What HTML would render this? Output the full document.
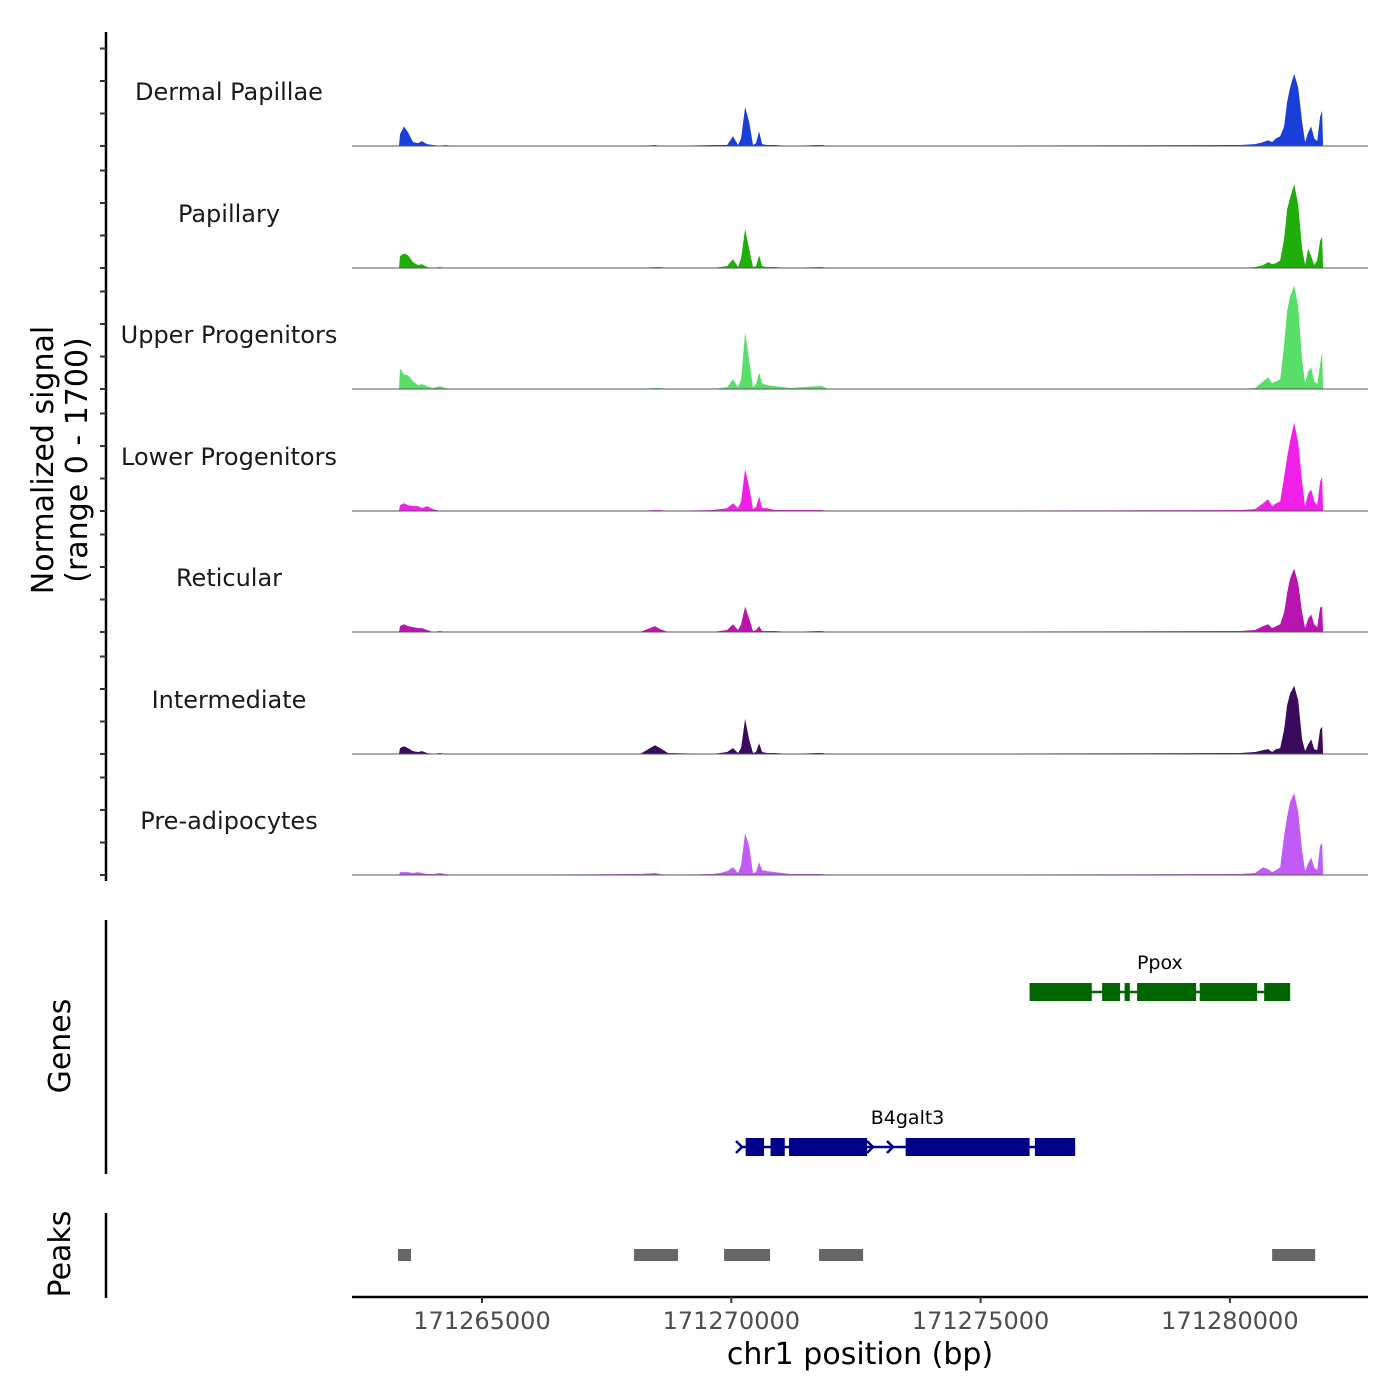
<!DOCTYPE html>
<html><head><meta charset="utf-8"><style>
html,body{margin:0;padding:0;background:#fff}
svg{display:block;font-family:"DejaVu Sans","Liberation Sans",sans-serif}
</style></head><body>
<svg id="chart" width="1400" height="1400" viewBox="0 0 1400 1400" xmlns="http://www.w3.org/2000/svg">
<g id="tracks"></g>
<g id="yaxis"></g>
<text transform="translate(53,460) rotate(-90)" text-anchor="middle" font-size="30" fill="#000">Normalized signal</text>
<text transform="translate(87,460) rotate(-90)" text-anchor="middle" font-size="30" fill="#000">(range 0 - 1700)</text>
<g id="genes"></g>
<line x1="106" y1="920" x2="106" y2="1174" stroke="#000" stroke-width="2.5"/>
<text transform="translate(70,1046) rotate(-90)" text-anchor="middle" font-size="30">Genes</text>
<g id="peaks"></g>
<line x1="106" y1="1213" x2="106" y2="1298" stroke="#000" stroke-width="2.5"/>
<text transform="translate(70,1254) rotate(-90)" text-anchor="middle" font-size="30">Peaks</text>
<g id="xaxis"></g>
<text x="860" y="1364" text-anchor="middle" font-size="30">chr1 position (bp)</text>
</svg>
<script>
const positions = [171263335,171263355,171263435,171263516,171263616,171263716,171263796,171263897,171264017,171264157,171264258,171264398,
171268169,171268470,171268571,171268731,
171269614,171269774,171269915,171270035,171270135,171270196,171270276,171270356,171270436,171270496,171270557,171270617,171270717,171270878,171271178,171271740,171271820,171271941,
171280205,171280506,171280667,171280767,171280847,171280928,171281008,171281088,171281148,171281208,171281289,171281369,171281449,171281509,171281570,171281630,171281690,171281750,171281810,171281850,171281870];
const trackNames = ["Dermal Papillae","Papillary","Upper Progenitors","Lower Progenitors","Reticular","Intermediate","Pre-adipocytes"];
const trackColors = ["#1a3fd9","#1fae0a","#5ade6a","#f020e8","#b815b0","#3a0a5e","#c25af5"];
const dermalPapillae = [0,180,300,210,60,45,75,30,15,0,15,0, 0,15,0,0, 15,15,15,150,15,120,600,375,15,45,225,30,15,15,0,15,15,0, 15,30,60,90,60,120,150,300,675,900,1110,900,375,60,210,300,120,75,450,540,0];
const papillary = [0,180,225,195,90,45,60,15,0,15,0,0, 0,15,15,0, 0,15,30,135,15,150,600,300,15,30,195,30,15,15,0,15,15,0, 0,15,45,90,60,75,120,450,900,1080,1290,975,300,45,300,180,45,120,420,480,0];
const upperProgenitors = [0,315,225,210,120,60,75,45,15,45,15,0, 0,15,15,0, 0,15,30,150,30,150,870,450,30,75,255,90,60,45,15,45,45,0, 0,15,120,180,90,120,150,675,1200,1425,1590,1275,450,90,270,330,120,75,375,570,0];
const lowerProgenitors = [0,90,120,90,75,75,45,75,30,0,0,0, 0,15,15,0, 15,30,45,120,45,150,645,375,30,60,225,45,45,15,15,15,15,0, 15,30,120,180,75,120,150,525,825,1080,1365,1050,450,75,270,330,150,90,450,525,0];
const reticular = [0,90,120,90,75,60,60,30,0,15,0,0, 0,90,45,0, 0,15,30,120,30,120,390,210,15,30,90,15,15,15,0,15,15,0, 15,30,90,120,60,90,120,300,600,825,975,750,300,60,210,270,120,75,375,390,0];
const intermediate = [0,90,120,90,45,30,45,15,0,15,0,0, 0,135,90,15, 0,15,30,90,15,90,540,225,15,30,165,30,15,15,0,15,15,0, 15,30,60,75,30,75,90,375,750,930,1050,825,225,45,150,225,75,60,375,420,0];
const preAdipocytes = [0,45,45,45,30,45,30,15,15,30,15,0, 15,30,15,0, 15,30,60,120,30,150,645,450,30,45,195,75,60,45,15,15,15,0, 15,30,120,90,45,75,120,600,900,1125,1260,975,375,60,180,270,120,75,450,495,0];
const trackValues = [dermalPapillae,papillary,upperProgenitors,lowerProgenitors,reticular,intermediate,preAdipocytes];

const xTicks = [171265000,171270000,171275000,171280000];
const xTickLabels = ["171265000","171270000","171275000","171280000"];

const peakStarts = [171263315,171268049,171269855,171271760,171280847];
const peakEnds   = [171263576,171268932,171270777,171272643,171281710];

const geneNames = ["Ppox","B4galt3"];
const geneStarts = [171275983,171270175];
const geneEnds = [171281208,171276896];
const ppoxExonStarts = [171275983,171277437,171277889,171278139,171279395,171280687];
const ppoxExonEnds   = [171277230,171277798,171277993,171279323,171280546,171281208];
const b4ExonStarts = [171270288,171270787,171271158,171273497,171276089];
const b4ExonEnds   = [171270657,171271072,171272723,171275983,171276896];

const NS="http://www.w3.org/2000/svg";
const X0=352, X1=1368, PXPB=0.04986;
function xs(bp){return 482+(bp-171265000)*PXPB;}
function ys(v,base){return base-v*0.065;}
const baselines=[146,268,389,511,632,754,875];
function mk(tag,attrs,parent){const e=document.createElementNS(NS,tag);for(const k in attrs)e.setAttribute(k,attrs[k]);parent.appendChild(e);return e;}

const tg=document.getElementById('tracks');
trackValues.forEach((vals,i)=>{
  const base=baselines[i];
  const g=mk('g',{},tg);
  
  
  let d='M'+xs(positions[0]).toFixed(1)+','+base;
  positions.forEach((p,j)=>{d+=' L'+xs(p).toFixed(1)+','+ys(vals[j],base).toFixed(1);});
  d+=' L'+xs(positions[positions.length-1]).toFixed(1)+','+base+' Z';
  const area=mk('path',{d:d,fill:trackColors[i]},g);
  
  
  const bl=mk('line',{x1:X0,x2:X1,y1:base,y2:base,stroke:'#555','stroke-width':1},g);
  
  
  const lab=mk('text',{x:229,y:base-46,'text-anchor':'middle','font-size':24,fill:'#1a1a1a'},g);
  lab.textContent=trackNames[i];
  
  
});

const ya=document.getElementById('yaxis');
const al=mk('line',{x1:106,x2:106,y1:32,y2:881,stroke:'#000','stroke-width':2.5},ya);


baselines.forEach(b=>{[0,500,1000,1500].forEach(v=>{
  const y=ys(v,b);
  const t=mk('line',{x1:100,x2:106,y1:y,y2:y,stroke:'#333','stroke-width':2},ya);
  
  
});});

const pg=document.getElementById('peaks');
peakStarts.forEach((s,i)=>{
  const r=mk('rect',{x:xs(s),y:1249,width:xs(peakEnds[i])-xs(s),height:12,fill:'#666'},pg);
  
  
});

const gg=document.getElementById('genes');
function drawGene(idx,starts,ends,yc,color){
  const g=mk('g',{},gg);
  
  
  const ln=mk('line',{x1:xs(geneStarts[idx]),x2:xs(geneEnds[idx]),y1:yc,y2:yc,stroke:color,'stroke-width':2.5},g);
  
  
  starts.forEach((s,j)=>{
    const r=mk('rect',{x:xs(s),y:yc-9,width:xs(ends[j])-xs(s),height:18,fill:color},g);
    
    
  });
  const lab=mk('text',{x:(xs(geneStarts[idx])+xs(geneEnds[idx]))/2,y:yc-23,'text-anchor':'middle','font-size':19,fill:'#000'},g);
  lab.textContent=geneNames[idx];
  
  
  return g;
}
drawGene(0,ppoxExonStarts,ppoxExonEnds,992,'#006400');
const bg=drawGene(1,b4ExonStarts,b4ExonEnds,1147,'#00008b');
[740,871,891].forEach(x=>{
  const a=mk('path',{d:'M'+(x-4)+',1141 L'+(x+2)+',1147 L'+(x-4)+',1153',fill:'none',stroke:'#00008b','stroke-width':2.5},bg);
  
  
});

const xa=document.getElementById('xaxis');
const xl=mk('line',{x1:X0,x2:X1,y1:1297,y2:1297,stroke:'#000','stroke-width':2.5},xa);


xTicks.forEach((t,i)=>{
  const x=xs(t);
  const tk=mk('line',{x1:x,x2:x,y1:1297,y2:1303,stroke:'#333','stroke-width':2},xa);
  
  
  const lb=mk('text',{x:x,y:1329,'text-anchor':'middle','font-size':24,fill:'#4d4d4d'},xa);
  lb.textContent=xTickLabels[i];
  
  
});
</script>
</body></html>
